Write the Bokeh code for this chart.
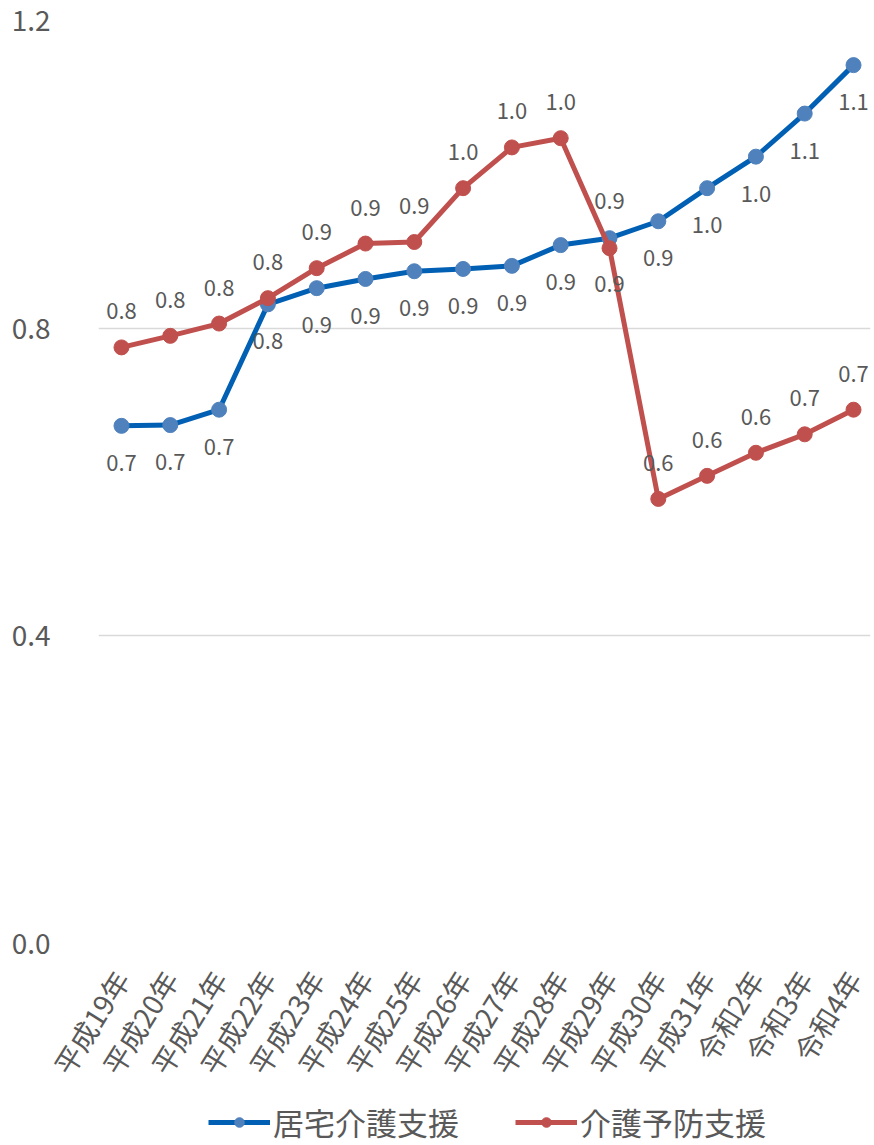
import math
from bokeh.plotting import figure
from bokeh.layouts import column
from bokeh.models import (ColumnDataSource, FixedTicker, LabelSet, Legend, LegendItem,
                          CustomJSTickFormatter)
from bokeh.core.properties import value
from bokeh.embed import file_html
from bokeh.resources import INLINE

categories = ["平成19年", "平成20年", "平成21年", "平成22年", "平成23年", "平成24年",
              "平成25年", "平成26年", "平成27年", "平成28年", "平成29年", "平成30年",
              "平成31年", "令和2年", "令和3年", "令和4年"]
kyotaku = [0.673, 0.674, 0.694, 0.831, 0.852, 0.864, 0.874, 0.877, 0.881, 0.908,
           0.917, 0.939, 0.982, 1.023, 1.079, 1.142]
yobou = [0.775, 0.790, 0.806, 0.839, 0.878, 0.910, 0.912, 0.982, 1.035, 1.047,
         0.904, 0.578, 0.608, 0.638, 0.662, 0.694]
series_names = ["居宅介護支援", "介護予防支援"]
y_ticks = [0.0, 0.4, 0.8, 1.2]
# label side per point: 1 = above, -1 = below
kyotaku_side = [-1] * 10 + [1] + [-1] * 5
yobou_side = [1] * 10 + [-1] + [1] * 5

FONT = "Noto Sans CJK JP"
TXT = "#595959"
BLUE_LINE = "#0160B4"
BLUE_MARK = "#4F81BD"
RED = "#C0504D"

x = list(range(len(categories)))

p = figure(width=874, height=1100, output_backend="svg", toolbar_location=None,
           x_range=(-0.471, 15.348), y_range=(0, 1.2),
           min_border_left=98, min_border_right=4, min_border_top=20, min_border_bottom=157)
p.outline_line_color = None
p.xgrid.grid_line_color = None
p.ygrid.grid_line_color = "#D9D9D9"
p.ygrid.grid_line_width = 1.5

p.yaxis.ticker = FixedTicker(ticks=y_ticks)
p.yaxis.formatter = CustomJSTickFormatter(code="return tick.toFixed(1);")
p.yaxis.axis_line_color = None
p.yaxis.major_tick_line_color = None
p.yaxis.minor_tick_line_color = None
p.yaxis.major_label_text_font = FONT
p.yaxis.major_label_text_font_size = "28px"
p.yaxis.major_label_text_color = TXT
p.yaxis.major_label_standoff = 42

p.xaxis.ticker = FixedTicker(ticks=x)
p.xaxis.major_label_overrides = {i: c for i, c in enumerate(categories)}
p.xaxis.axis_line_color = None
p.xaxis.major_tick_line_color = None
p.xaxis.minor_tick_line_color = None
p.xaxis.major_label_text_font = FONT
p.xaxis.major_label_text_font_size = "28px"
p.xaxis.major_label_text_color = TXT
p.xaxis.major_label_orientation = math.radians(58)
p.xaxis.major_label_standoff = 24

src_b = ColumnDataSource(dict(x=x, y=kyotaku, t=[f"{v:.1f}" for v in kyotaku],
                              off=[s * 37 for s in kyotaku_side]))
src_r = ColumnDataSource(dict(x=x, y=yobou, t=[f"{v:.1f}" for v in yobou],
                              off=[s * 36 for s in yobou_side]))

line_kw_b = dict(line_color=BLUE_LINE, line_width=5)
mark_kw_b = dict(size=15, fill_color=BLUE_MARK, line_color=BLUE_MARK)
line_kw_r = dict(line_color=RED, line_width=5)
mark_kw_r = dict(size=15, fill_color=RED, line_color=RED)

p.line("x", "y", source=src_b, **line_kw_b)
p.scatter("x", "y", source=src_b, **mark_kw_b)
p.line("x", "y", source=src_r, **line_kw_r)
p.scatter("x", "y", source=src_r, **mark_kw_r)

for src in (src_b, src_r):
    ls = LabelSet(x="x", y="y", text="t", source=src, y_offset="off",
                  text_align="center", text_baseline="middle",
                  text_font=value(FONT), text_font_size=value("22px"), text_color=value(TXT))
    p.add_layout(ls)

# legend strip below the chart (its view range keeps the series out of sight)
q = figure(width=874, height=45, output_backend="svg", toolbar_location=None,
           x_range=(-0.471, 15.348), y_range=(10, 11),
           min_border_left=98, min_border_right=4, min_border_top=0, min_border_bottom=0)
q.axis.visible = False
q.grid.visible = False
q.outline_line_color = None
qlb = q.line("x", "y", source=src_b, **line_kw_b)
qcb = q.scatter("x", "y", source=src_b, **mark_kw_b)
qlr = q.line("x", "y", source=src_r, **line_kw_r)
qcr = q.scatter("x", "y", source=src_r, **mark_kw_r)

legend = Legend(items=[LegendItem(label=series_names[0], renderers=[qlb, qcb]),
                       LegendItem(label=series_names[1], renderers=[qlr, qcr])],
                orientation="horizontal", location=(110, 1),
                label_text_font=FONT, label_text_font_size="31px", label_text_color=TXT,
                glyph_width=62, glyph_height=24, spacing=56, border_line_color=None,
                background_fill_alpha=0, padding=0, margin=0, label_standoff=3)
q.add_layout(legend, "center")

layout = column(p, q, spacing=0)
open("out.html", "w").write(file_html(layout, INLINE))
